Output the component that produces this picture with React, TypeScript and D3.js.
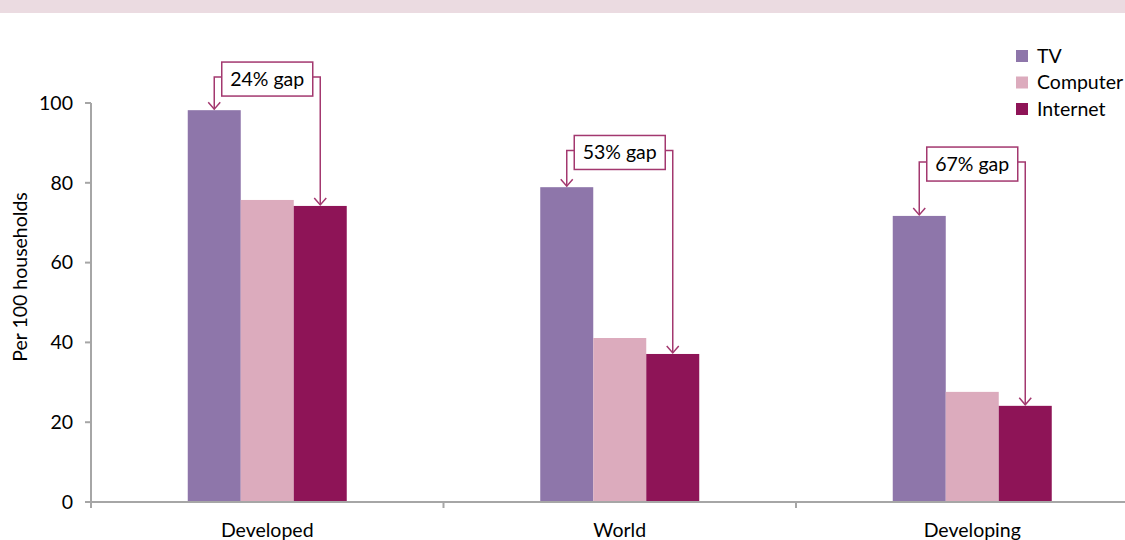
import React from "react";
import * as d3 from "d3";

const categories = ["Developed", "World", "Developing"];
const seriesNames = ["TV", "Computer", "Internet"];
const tv = [98.2, 78.9, 71.7];
const computer = [75.7, 41.1, 27.6];
const internet = [74.2, 37.1, 24.1];
const gapLabels = ["24% gap", "53% gap", "67% gap"];
const gapLabelLevel = [106, 87.6, 84.7];
const yTicks = [0, 20, 40, 60, 80, 100];
const colors = ["#8E76AA", "#DCABBD", "#8E1457"];

const W = 1125;
const H = 540;
const FONT = "Lato, 'Open Sans', sans-serif";
const FS = 19.5;

export default function App() {
  const x0 = d3.scaleBand<string>().domain(categories).range([91, 91 + 352.5 * 3]).paddingInner(0).paddingOuter(0);
  const groupW = 159;
  const x1 = d3.scaleBand<string>().domain(seriesNames).range([0, groupW]).padding(0);
  const y = d3.scaleLinear().domain([0, 100]).range([502, 103]);
  const series = [tv, computer, internet];
  const annColor = "#A3386F";
  const axisColor = "#A6A6A6";

  const arrow = (cx: number, ty: number) => `M${cx - 6},${ty - 7} L${cx},${ty} L${cx + 6},${ty - 7}`;

  return (
    <svg width={W} height={H} style={{ position: "absolute", left: 0, top: 0, background: "#fff" }} fontFamily={FONT}>
      <rect x={0} y={0} width={W} height={13} fill="#EBDBE1" />
      {/* bars */}
      {categories.map((c, i) => {
        const gx = x0(c)! + (x0.bandwidth() - groupW) / 2;
        return seriesNames.map((s, j) => (
          <rect key={c + s} x={gx + x1(s)!} y={y(series[j][i])} width={x1.bandwidth()} height={y(0) - y(series[j][i])} fill={colors[j]} />
        ));
      })}
      {/* axes */}
      <line x1={91} x2={91} y1={y(100)} y2={y(0)} stroke={axisColor} strokeWidth={2} />
      <line x1={85} x2={W} y1={y(0)} y2={y(0)} stroke={axisColor} strokeWidth={2} />
      {yTicks.map((t) => (
        <g key={t}>
          <line x1={85} x2={91} y1={y(t)} y2={y(t)} stroke={axisColor} strokeWidth={2} />
          <text x={73} y={y(t)} dy="0.35em" textAnchor="end" fontSize={FS} fill="#000">{t}</text>
        </g>
      ))}
      {[0, 1, 2, 3].map((k) => {
        const xx = 91 + x0.bandwidth() * k;
        return <line key={k} x1={xx} x2={xx} y1={y(0)} y2={y(0) + 6} stroke={axisColor} strokeWidth={2} />;
      })}
      {categories.map((c) => (
        <text key={c} x={x0(c)! + x0.bandwidth() / 2} y={530} dy="0.35em" textAnchor="middle" fontSize={FS} fill="#000">{c}</text>
      ))}
      <text transform={`translate(20,277) rotate(-90)`} dy="0.35em" textAnchor="middle" fontSize={FS} fill="#000">Per 100 households</text>
      {/* annotations */}
      {categories.map((c, i) => {
        const gx = x0(c)! + (x0.bandwidth() - groupW) / 2;
        const tvx = gx + x1("TV")! + x1.bandwidth() / 2;
        const inx = gx + x1("Internet")! + x1.bandwidth() / 2;
        const cy = y(gapLabelLevel[i]);
        const bx = (tvx + inx) / 2;
        const bw = 91;
        const bh = 34;
        const ly = cy - 2;
        return (
          <g key={"ann" + c} fill="none" stroke={annColor} strokeWidth={1.5}>
            <path d={`M${bx - bw / 2},${ly} H${tvx} V${y(tv[i]) - 1}`} />
            <path d={arrow(tvx, y(tv[i]) - 1)} />
            <path d={`M${bx + bw / 2},${ly} H${inx} V${y(internet[i]) - 1}`} />
            <path d={arrow(inx, y(internet[i]) - 1)} />
            <rect x={bx - bw / 2} y={cy - bh / 2} width={bw} height={bh} fill="#fff" />
            <text x={bx} y={cy} dy="0.35em" textAnchor="middle" fontSize={19.5} fill="#000" stroke="none">{gapLabels[i]}</text>
          </g>
        );
      })}
      {/* legend */}
      {seriesNames.map((s, j) => (
        <g key={s} transform={`translate(1016,${56 + j * 26.5})`}>
          <rect x={0} y={-6} width={12} height={12} fill={colors[j]} />
          <text x={21} y={0} dy="0.35em" fontSize={FS} fill="#000">{s}</text>
        </g>
      ))}
    </svg>
  );
}
